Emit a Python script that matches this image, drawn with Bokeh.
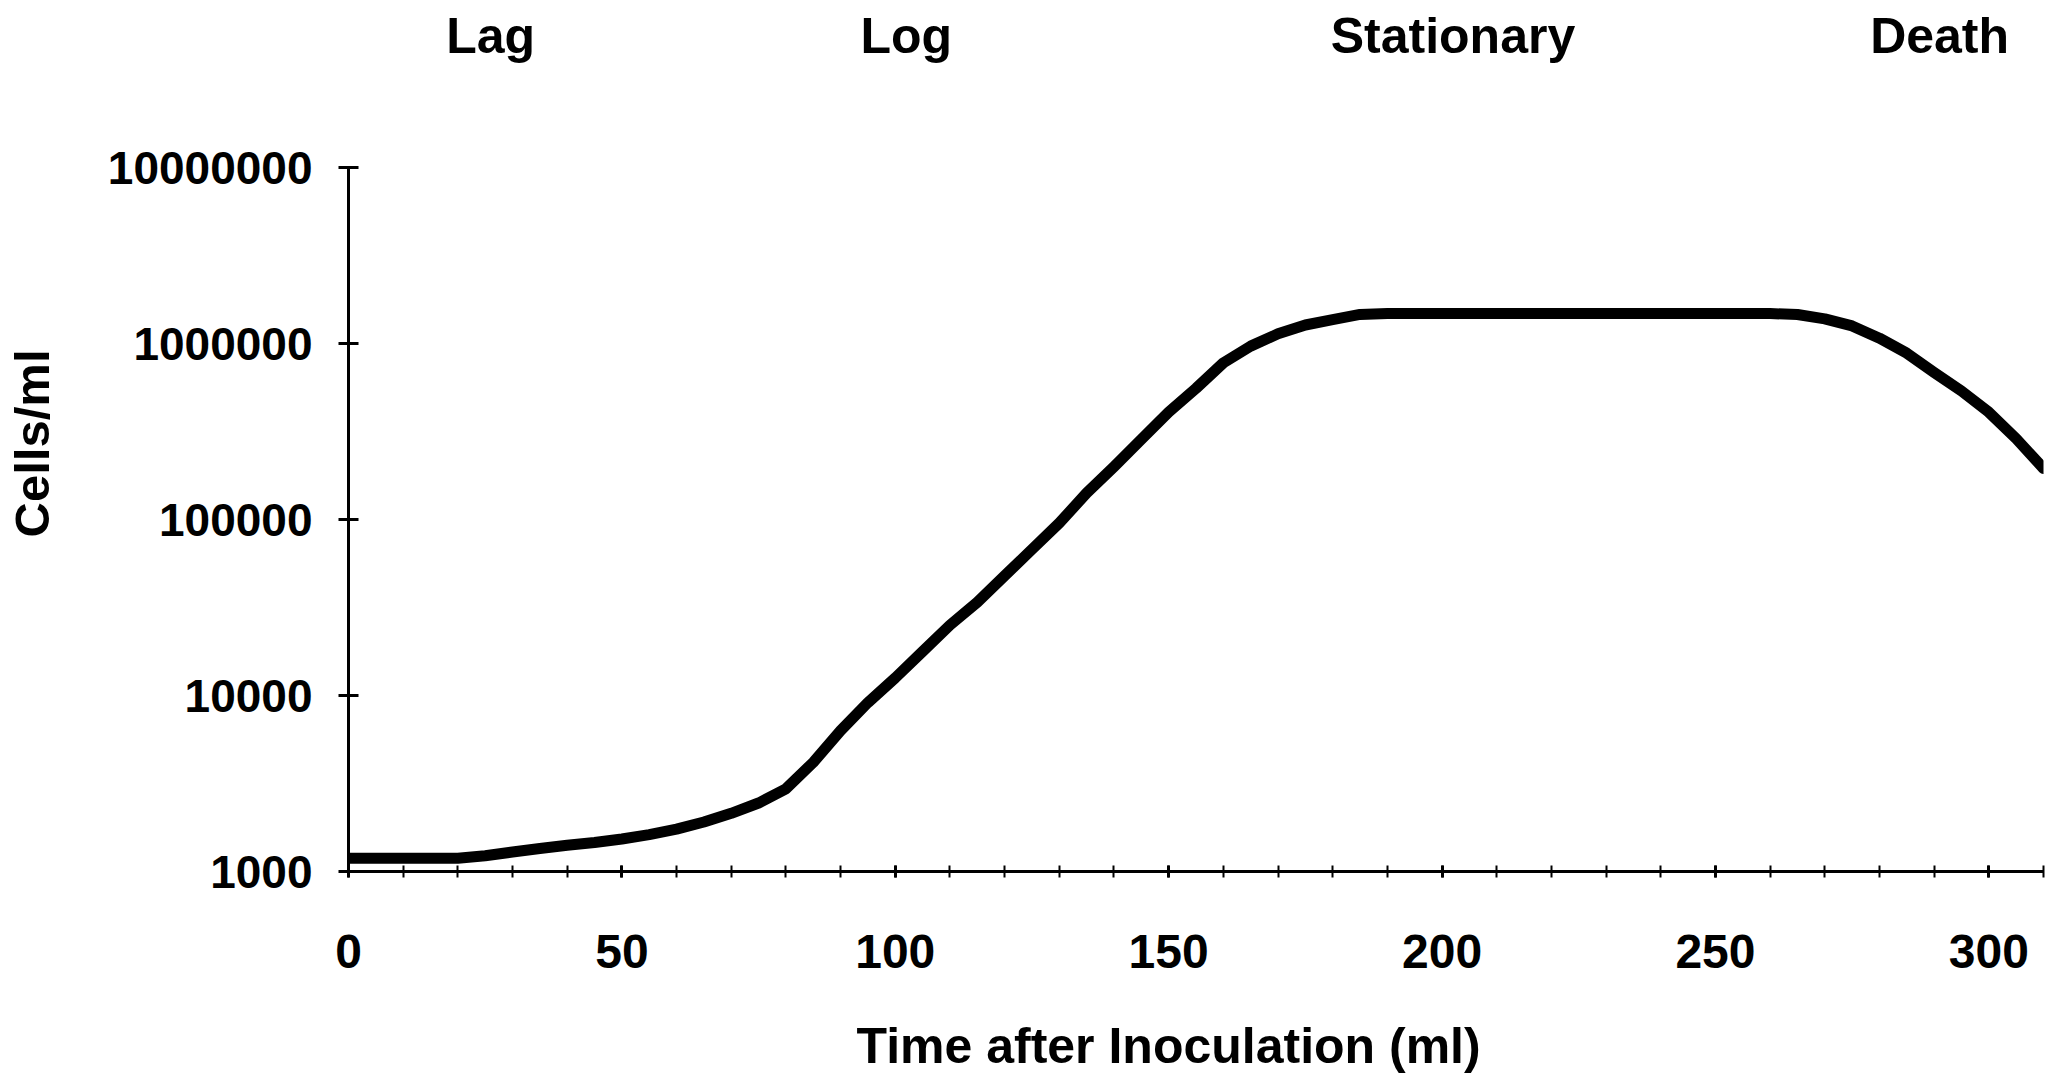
import numpy as np
from bokeh.plotting import figure
from bokeh.models import (Range1d, FixedTicker, SingleIntervalTicker, PrintfTickFormatter,
                          LinearAxis, Title)
from bokeh.embed import file_html
from bokeh.resources import INLINE

# ---- data ----
time_after_inoculation = [0, 5, 10, 15, 20, 25, 30, 35, 40, 45, 50, 55, 60, 65, 70, 75, 80, 85,
                          90, 95, 100, 105, 110, 115, 120, 125, 130, 135, 140, 145, 150, 155,
                          160, 165, 170, 175, 180, 185, 190, 195, 200, 205, 210, 215, 220, 225,
                          230, 235, 240, 245, 250, 255, 260, 265, 270, 275, 280, 285, 290, 295,
                          300, 305, 310]
cells_per_ml = [1190, 1190, 1190, 1190, 1190, 1230, 1290, 1350, 1410, 1460, 1530, 1620, 1740,
                1910, 2140, 2450, 2950, 4170, 6310, 9120, 12590, 17780, 25120, 33880, 47860,
                67610, 95500, 141300, 199500, 285100, 407400, 555900, 776200, 966100, 1135000,
                1274000, 1365000, 1462000, 1479000, 1479000, 1479000, 1479000, 1479000,
                1479000, 1479000, 1479000, 1479000, 1479000, 1479000, 1479000, 1479000,
                1479000, 1479000, 1462000, 1380000, 1259000, 1072000, 881000, 684000,
                537000, 407000, 288000, 195000]

y_tick_labels = ["1000", "10000", "100000", "1000000", "10000000"]
x_tick_interval = 50
phase_names = ["Lag", "Log", "Stationary", "Death"]
phase_centers = [26, 102, 202, 291]

x_title = "Time after Inoculation (ml)"
y_title = "Cells/ml"

W, H = 2059, 1075
FONT = "Liberation Sans"

p = figure(width=W, height=H, output_backend="svg", toolbar_location=None,
           y_axis_type="log", x_range=Range1d(0, 310), y_range=Range1d(1000, 1e7),
           min_border_left=348, min_border_right=16, min_border_top=167, min_border_bottom=204)
p.background_fill_color = "white"
p.border_fill_color = "white"
p.outline_line_color = None
p.grid.visible = False

p.line(time_after_inoculation, cells_per_ml, line_width=11, line_color="black",
       line_join="round", line_cap="round")

# x axis
xa = p.xaxis[0]
xa.ticker = SingleIntervalTicker(interval=x_tick_interval, num_minor_ticks=5)
xa.axis_line_width = 3
xa.axis_line_color = "black"
xa.major_tick_in = 6
xa.major_tick_out = 6
xa.minor_tick_in = 6
xa.minor_tick_out = 6
xa.major_tick_line_width = 3
xa.minor_tick_line_width = 2
xa.major_tick_line_color = "black"
xa.minor_tick_line_color = "black"
xa.major_label_text_font = FONT
xa.major_label_text_font_style = "bold"
xa.major_label_text_font_size = "48px"
xa.major_label_text_color = "black"
xa.major_label_standoff = 57
# blank axis label used only as spacing before the title below
xa.axis_label = " "
xa.axis_label_text_font_size = "10px"
xa.axis_label_standoff = 33

# y axis
ya = p.yaxis[0]
ya.ticker = FixedTicker(ticks=[float(s) for s in y_tick_labels])
ya.formatter = PrintfTickFormatter(format="%d")
ya.axis_line_width = 3
ya.axis_line_color = "black"
ya.major_tick_in = 10
ya.major_tick_out = 10
ya.major_tick_line_width = 3
ya.major_tick_line_color = "black"
ya.minor_tick_line_color = None
ya.major_label_text_font = FONT
ya.major_label_text_font_style = "bold"
ya.major_label_text_font_size = "46px"
ya.major_label_text_color = "black"
ya.major_label_standoff = 26
ya.axis_label = " "
ya.axis_label_text_font_size = "10px"
ya.axis_label_standoff = 30

# phase labels along the top
top = LinearAxis(ticker=FixedTicker(ticks=phase_centers),
                 major_label_overrides=dict(zip(phase_centers, phase_names)))
top.axis_line_color = None
top.major_tick_line_color = None
top.minor_tick_line_color = None
top.major_tick_out = 0
top.major_tick_in = 0
top.major_label_text_font = FONT
top.major_label_text_font_style = "bold"
top.major_label_text_font_size = "50px"
top.major_label_text_color = "black"
top.major_label_standoff = 104
p.add_layout(top, "above")

# axis titles
p.add_layout(Title(text=x_title, align="left", offset=508, vertical_align="top", standoff=0,
                   text_font=FONT, text_font_style="bold", text_font_size="50px",
                   text_color="black"), "below")
p.add_layout(Title(text=y_title, align="right", offset=182, vertical_align="top", standoff=0,
                   text_font=FONT, text_font_style="bold", text_font_size="49px",
                   text_color="black"), "left")

open("out.html", "w").write(file_html(p, INLINE))
